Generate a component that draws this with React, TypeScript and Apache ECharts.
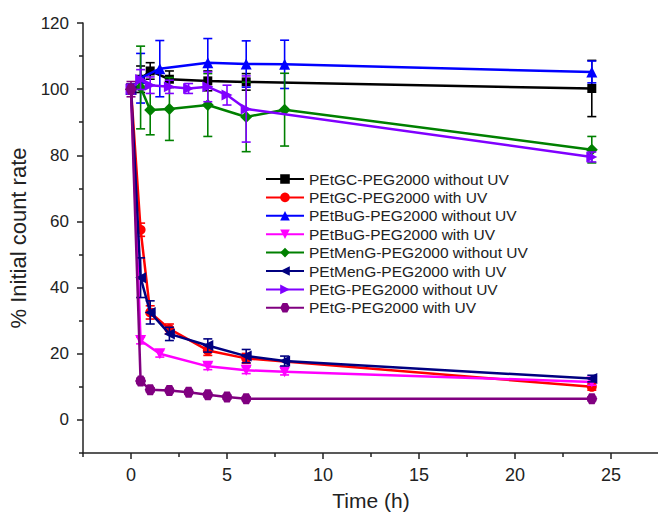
import React, { useEffect, useRef } from "react";
import * as echarts from "echarts";

// time points (h)
const timeGC = [0, 0.5, 1, 2, 4, 6, 24];
const timeGCUV = [0, 0.5, 1, 2, 4, 6, 24];
const timeBuG = [0, 0.5, 1.5, 4, 6, 8, 24];
const timeMenG = [0, 0.5, 1, 2, 4, 6, 8, 24];
const timeG = [0, 0.5, 1, 2, 3, 4, 5, 6, 24];

// values (%) and errors
const gcNoUV = [100, 103, 105.5, 103, 102.5, 102.2, 100.2];
const gcNoUVErr = [1.5, 4, 2.5, 2.5, 3, 2.5, 8.5];
const gcUV = [100, 57.5, 32.5, 27.5, 21, 18.6, 10];
const gcUVErr = [1.5, 2, 2, 1.5, 1.5, 1.5, 1];
const bugNoUV = [100, 103.3, 106.2, 108, 107.6, 107.5, 105.2];
const bugNoUVErr = [1.5, 7.5, 8.5, 7.3, 7, 7.3, 3.3];
const bugUV = [100, 24, 20, 16.2, 15, 14.6, 11.5];
const bugUVErr = [1.5, 1, 1, 1, 1, 1, 1];
const mengNoUV = [100, 100.5, 93.7, 94, 95.2, 91.6, 93.8, 81.7];
const mengNoUVErr = [1.5, 12.5, 7.5, 9.5, 9.5, 10.5, 11, 4];
const mengUV = [100, 43, 32.5, 26, 22.5, 19.3, 17.8, 12.5];
const mengUVErr = [1.5, 6, 3.5, 2, 2, 2, 1.5, 1];
const gNoUV = [100, 102.9, 101.2, 100.7, 100.2, 100.7, 98.2, 94, 79.5];
const gNoUVErr = [1.5, 3, 2.5, 2, 1.5, 4.5, 3, 10, 1.5];
const gUV = [100, 11.8, 9.1, 8.9, 8.4, 7.6, 6.9, 6.4, 6.4];
const gUVErr = [2.3, 0.8, 0.6, 0.6, 0.6, 0.6, 0.6, 0.6, 0.6];

const seriesNames = [
  "PEtGC-PEG2000 without UV",
  "PEtGC-PEG2000 with UV",
  "PEtBuG-PEG2000 without UV",
  "PEtBuG-PEG2000 with UV",
  "PEtMenG-PEG2000 without UV",
  "PEtMenG-PEG2000 with UV",
  "PEtG-PEG2000 without UV",
  "PEtG-PEG2000 with UV",
];

const yMajorTicks = [0, 20, 40, 60, 80, 100, 120];
const yMinorTicks = [-10, 10, 30, 50, 70, 90, 110];
const xMajorTicks = [0, 5, 10, 15, 20, 25];
const xMinorTicks = [-2.5, 2.5, 7.5, 12.5, 17.5, 22.5, 27.5];

const HEX = "path://M-1,0 L-0.5,-0.866 L0.5,-0.866 L1,0 L0.5,0.866 L-0.5,0.866 Z";

export default function App() {
  const ref = useRef<HTMLDivElement>(null);
  useEffect(() => {
    if (!ref.current) return;
    const chart = echarts.init(ref.current, null, { renderer: "svg" });
    const FONT = "Liberation Sans, Arial, sans-serif";
    const defs = [
      { t: timeGC, v: gcNoUV, e: gcNoUVErr, c: "#000000", s: "rect", size: 9 },
      { t: timeGCUV, v: gcUV, e: gcUVErr, c: "#FF0000", s: "circle", size: 10 },
      { t: timeBuG, v: bugNoUV, e: bugNoUVErr, c: "#0000FF", s: "triangle", size: 11 },
      { t: timeBuG, v: bugUV, e: bugUVErr, c: "#FF00FF", s: "triangle", size: 11, rot: 180 },
      { t: timeMenG, v: mengNoUV, e: mengNoUVErr, c: "#008000", s: "diamond", size: 12 },
      { t: timeMenG, v: mengUV, e: mengUVErr, c: "#000080", s: "triangle", size: 11, rot: 90 },
      { t: timeG, v: gNoUV, e: gNoUVErr, c: "#8000FF", s: "triangle", size: 11, rot: -90 },
      { t: timeG, v: gUV, e: gUVErr, c: "#800080", s: HEX, size: 11 },
    ];
    const series: any[] = [];
    defs.forEach((d, i) => {
      series.push({
        type: "custom",
        name: "err" + i,
        data: d.t.map((x, k) => [x, d.v[k], d.e[k]]),
        encode: { x: 0, y: 1 },
        z: 2 + i * 2,
        renderItem: (params: any, api: any) => {
          const x = api.value(0);
          const y = api.value(1);
          const e = api.value(2);
          const hi = api.coord([x, y + e]);
          const lo = api.coord([x, y - e]);
          const hw = 4.5;
          const st = { stroke: d.c, lineWidth: 1.6 };
          return {
            type: "group",
            children: [
              { type: "line", shape: { x1: hi[0], y1: hi[1], x2: lo[0], y2: lo[1] }, style: st },
              { type: "line", shape: { x1: hi[0] - hw, y1: hi[1], x2: hi[0] + hw, y2: hi[1] }, style: st },
              { type: "line", shape: { x1: lo[0] - hw, y1: lo[1], x2: lo[0] + hw, y2: lo[1] }, style: st },
            ],
          };
        },
      });
      series.push({
        type: "line",
        name: seriesNames[i],
        data: d.t.map((x, k) => [x, d.v[k]]),
        z: 3 + i * 2,
        color: d.c,
        symbol: d.s,
        symbolSize: d.size,
        symbolRotate: (d as any).rot || 0,
        showAllSymbol: true,
        lineStyle: { width: 2.5, color: d.c },
        itemStyle: { color: d.c, borderColor: d.c, borderWidth: 0 },
      });
    });
    chart.setOption({
      animation: false,
      backgroundColor: "#ffffff",
      textStyle: { fontFamily: FONT },
      grid: { left: 83, top: 23, width: 576, height: 430, containLabel: false, outerBoundsMode: "none" },
      legend: {
        data: seriesNames,
        orient: "vertical",
        left: 260,
        top: 165,
        itemWidth: 38,
        itemHeight: 12,
        itemGap: 0.4,
        textStyle: { fontSize: 15.5, color: "#222", fontFamily: FONT, lineHeight: 18 },
        selectedMode: false,
      },
      xAxis: [
        {
          type: "value",
          min: -2.5,
          max: 27.5,
          name: "Time (h)",
          nameLocation: "middle",
          nameGap: 37,
          nameTextStyle: { fontSize: 21, color: "#222", fontFamily: FONT },
          axisLine: { show: true, onZero: false, lineStyle: { color: "#222", width: 1.5 } },
          axisTick: { show: true, customValues: xMajorTicks, length: 6, lineStyle: { color: "#222", width: 1.5 } },
          axisLabel: { customValues: xMajorTicks, fontSize: 18, color: "#222", margin: 13, fontFamily: FONT },
          splitLine: { show: false },
        },
        {
          type: "value",
          min: -2.5,
          max: 27.5,
          position: "bottom",
          axisLine: { show: false, onZero: false },
          axisTick: { show: true, customValues: xMinorTicks, length: 4, lineStyle: { color: "#222", width: 1.5 } },
          axisLabel: { show: false },
          splitLine: { show: false },
        },
      ],
      yAxis: [
        {
          type: "value",
          min: -10,
          max: 120,
          name: "% Initial count rate",
          nameLocation: "middle",
          nameRotate: 90,
          nameGap: 49,
          nameTextStyle: { fontSize: 22, color: "#222", fontFamily: FONT },
          axisLine: { show: true, onZero: false, lineStyle: { color: "#222", width: 1.5 } },
          axisTick: { show: true, customValues: yMajorTicks, length: 6, lineStyle: { color: "#222", width: 1.5 } },
          axisLabel: { customValues: yMajorTicks, fontSize: 17, color: "#222", margin: 14, fontFamily: FONT },
          splitLine: { show: false },
        },
        {
          type: "value",
          min: -10,
          max: 120,
          position: "left",
          axisLine: { show: false, onZero: false },
          axisTick: { show: true, customValues: yMinorTicks, length: 4, lineStyle: { color: "#222", width: 1.5 } },
          axisLabel: { show: false },
          splitLine: { show: false },
        },
      ],
      series,
    });
    return () => chart.dispose();
  }, []);
  return (
    <div
      ref={ref}
      style={{ position: "absolute", left: 0, top: 0, width: 658, height: 517, background: "#fff" }}
    />
  );
}
